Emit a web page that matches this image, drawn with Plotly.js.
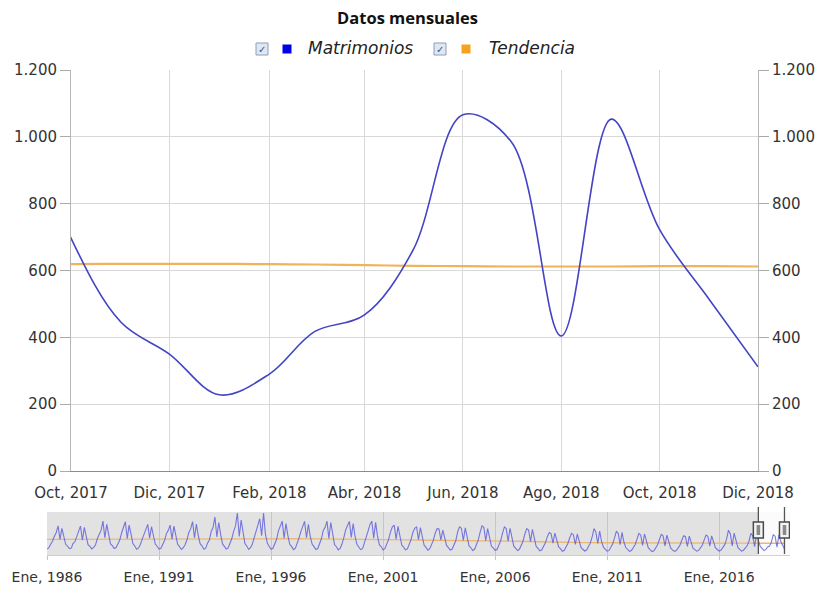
<!DOCTYPE html>
<html>
<head>
<meta charset="utf-8">
<script src="https://cdn.plot.ly/plotly-3.0.1.min.js"></script>
<style>html,body{margin:0;padding:0;background:#fff;}#chart{width:815px;height:590px;}</style>
</head>
<body>
<div id="chart"></div>
<script>
// ---- DATA ----
const startYear = 1986;
// Matrimonios mensuales, Ene 1986 .. Dic 2018 (12 valores por año)
const matrimonios = [
  310, 380, 560, 720, 980, 1180, 1520, 820, 1390, 1010, 560, 470,   // 1986
  330, 360, 600, 690, 1020, 1250, 1510, 780, 1440, 980, 540, 450,   // 1987
  320, 400, 520, 860, 1090, 1300, 1770, 900, 1600, 1050, 580, 490,  // 1988
  340, 390, 610, 780, 1150, 1420, 1740, 860, 1560, 1100, 600, 470,  // 1989
  300, 370, 540, 820, 1080, 1350, 1600, 880, 1480, 1020, 570, 460,  // 1990
  310, 350, 580, 760, 1120, 1290, 1560, 830, 1510, 960, 560, 440,   // 1991
  290, 380, 540, 800, 1180, 1380, 1750, 900, 1620, 1040, 590, 480,  // 1992
  300, 360, 620, 780, 1230, 1460, 1990, 940, 1700, 1090, 580, 450,  // 1993
  310, 370, 590, 850, 1240, 1520, 2200, 970, 1830, 1120, 600, 470,  // 1994
  290, 380, 560, 900, 1200, 1560, 1900, 1010, 2200, 1100, 620, 460, // 1995
  300, 350, 600, 820, 1260, 1480, 1770, 880, 1650, 1030, 560, 450,  // 1996
  280, 360, 580, 880, 1220, 1500, 1760, 900, 1600, 980, 570, 440,   // 1997
  290, 340, 610, 850, 1280, 1450, 1770, 860, 1700, 1010, 550, 430,  // 1998
  270, 350, 560, 900, 1300, 1540, 1760, 920, 1640, 990, 560, 420,   // 1999
  280, 330, 590, 870, 1250, 1600, 1770, 880, 1710, 1000, 540, 430,  // 2000
  260, 340, 570, 820, 1200, 1480, 1560, 830, 1500, 950, 520, 410,   // 2001
  270, 320, 540, 800, 1180, 1400, 1470, 800, 1430, 920, 510, 400,   // 2002
  250, 330, 520, 780, 1150, 1380, 1360, 780, 1300, 900, 500, 390,   // 2003
  260, 310, 550, 760, 1220, 1470, 1400, 760, 1420, 880, 490, 380,   // 2004
  240, 300, 500, 790, 1180, 1520, 1450, 750, 1380, 860, 470, 370,   // 2005
  250, 290, 520, 740, 1130, 1470, 1380, 720, 1400, 840, 460, 360,   // 2006
  230, 300, 480, 720, 1100, 1380, 1300, 700, 1340, 820, 450, 350,   // 2007
  220, 270, 450, 650, 960, 1180, 1120, 620, 1150, 740, 420, 330,    // 2008
  200, 250, 400, 600, 900, 1130, 1050, 560, 1100, 700, 400, 300,    // 2009
  210, 260, 420, 620, 940, 1380, 1200, 600, 1250, 720, 410, 310,    // 2010
  200, 240, 400, 580, 880, 1250, 1130, 540, 1180, 680, 390, 290,    // 2011
  190, 230, 380, 540, 820, 1130, 1050, 500, 1100, 660, 380, 280,    // 2012
  180, 220, 360, 520, 800, 1080, 1000, 480, 1040, 640, 370, 270,    // 2013
  190, 230, 350, 500, 760, 1010, 960, 450, 990, 630, 360, 280,      // 2014
  200, 240, 370, 510, 780, 1040, 980, 460, 1000, 650, 380, 290,     // 2015
  210, 260, 380, 540, 830, 1300, 1100, 480, 1150, 700, 400, 300,    // 2016
  200, 250, 390, 480, 720, 1130, 1010, 440, 1080, 697, 445, 350,    // 2017
  228, 290, 417, 467, 660, 1066, 985, 404, 1053, 722, 512, 312      // 2018
];
// Tendencia: valor de enero de cada año 1986..2017
const tendenciaAnual = [
  820, 825, 830, 835, 830, 825, 835, 850, 870, 875, 860, 850, 845, 840, 835, 815,
  790, 770, 765, 755, 740, 720, 690, 660, 650, 640, 630, 620, 615, 615, 620, 620
];
// Tendencia mensual, Oct 2017 .. Dic 2018
const tendenciaReciente = [619, 620, 620, 620, 619, 618, 616, 614, 613, 612, 612, 612, 613, 613, 612];
const tendenciaRecienteInicio = [2017, 10];

const ventana = ['2017-10-01', '2018-12-01'];
const ticksPrincipal = ['2017-10-01','2017-12-01','2018-02-01','2018-04-01','2018-06-01','2018-08-01','2018-10-01','2018-12-01'];
const textosPrincipal = ['Oct, 2017','Dic, 2017','Feb, 2018','Abr, 2018','Jun, 2018','Ago, 2018','Oct, 2018','Dic, 2018'];
const ticksResumen = ['1986-01-01','1991-01-01','1996-01-01','2001-01-01','2006-01-01','2011-01-01','2016-01-01'];
const textosResumen = ['Ene, 1986','Ene, 1991','Ene, 1996','Ene, 2001','Ene, 2006','Ene, 2011','Ene, 2016'];
const rangoResumen = ['1986-01-01', '2019-03-01'];
const nombres = ['Matrimonios', 'Tendencia'];
const titulo = 'Datos mensuales';

// ---- BUILD ----
const pad = n => (n < 10 ? '0' : '') + n;
const fechas = matrimonios.map((_, i) => `${startYear + Math.floor(i / 12)}-${pad(i % 12 + 1)}-01`);
const tX = [], tY = [];
tendenciaAnual.forEach((v, i) => { tX.push(`${startYear + i}-01-01`); tY.push(v); });
tendenciaReciente.forEach((v, i) => {
  const k = tendenciaRecienteInicio[1] - 1 + i;
  tX.push(`${tendenciaRecienteInicio[0] + Math.floor(k / 12)}-${pad(k % 12 + 1)}-01`); tY.push(v);
});

const W = 815, H = 590, ml = 47, mr = 25, mt = 60, mb = 35;
const pw = W - ml - mr, ph = H - mt - mb;
const px = x => (x - ml) / pw;
const py = y => (H - mb - y) / ph;

const FONT = 'DejaVu Sans';
const TXT = '#333333';
const BLUE = '#4343c6', ORANGE = '#f0b25a';

const traces = [
  { x: tX, y: tY, type: 'scatter', mode: 'lines', name: nombres[1], xaxis: 'x', yaxis: 'y',
    line: { color: ORANGE, width: 2.2, shape: 'spline' }, showlegend: false, hoverinfo: 'x+y' },
  { x: fechas, y: matrimonios, type: 'scatter', mode: 'lines', name: nombres[0], xaxis: 'x', yaxis: 'y2',
    line: { color: BLUE, width: 1.6, shape: 'spline', smoothing: 1 }, showlegend: false },
  { x: tX, y: tY, type: 'scatter', mode: 'lines', xaxis: 'x2', yaxis: 'y3',
    line: { color: '#e9b878', width: 1.4 }, showlegend: false, hoverinfo: 'skip' },
  { x: fechas, y: matrimonios, type: 'scatter', mode: 'lines', xaxis: 'x2', yaxis: 'y3',
    line: { color: 'rgba(80,80,220,0.75)', width: 1.1 }, showlegend: false, hoverinfo: 'skip' }
];

const yAxisCommon = {
  range: [0, 1200], dtick: 200, tick0: 0, separatethousands: true,
  ticks: 'outside', ticklen: 10, tickcolor: '#aaaaaa',
  tickfont: { family: FONT, size: 15, color: TXT },
  showline: true, linecolor: '#b5b5b5', zeroline: false, fixedrange: true
};

const shapes = [
  { type: 'rect', xref: 'x2 domain', yref: 'y3 domain', x0: 0, x1: 1, y0: 0, y1: 1,
    fillcolor: '#e2e2e2', line: { width: 0 }, layer: 'below' },
  { type: 'rect', xref: 'x2', yref: 'y3 domain', x0: ventana[0], x1: rangoResumen[1], y0: 0, y1: 1,
    fillcolor: '#fbfbfb', line: { width: 0 }, layer: 'below' }
];
ventana.forEach(d => {
  shapes.push({ type: 'line', xref: 'x2', yref: 'paper', x0: d, x1: d, y0: py(507), y1: py(554),
    line: { color: '#555555', width: 1.3 } });
  shapes.push({ type: 'rect', xref: 'x2', xsizemode: 'pixel', xanchor: d, x0: -5, x1: 5,
    yref: 'paper', y0: py(538), y1: py(522), fillcolor: '#f4f4f4', line: { color: '#4a4a4a', width: 1.5 } });
  shapes.push({ type: 'rect', xref: 'x2', xsizemode: 'pixel', xanchor: d, x0: -1.8, x1: 1.8,
    yref: 'paper', y0: py(535), y1: py(525), fillcolor: '#8a8a8a', line: { width: 0 } });
});
const legendItems = [
  { cb: 262, sq: 287, tx: 306, color: '#0000e6', text: nombres[0] },
  { cb: 440, sq: 466, tx: 487, color: '#f5a31c', text: nombres[1] }
];
const annotations = [];
legendItems.forEach(it => {
  shapes.push({ type: 'rect', xref: 'paper', yref: 'paper', x0: px(it.cb - 6), x1: px(it.cb + 6),
    y0: py(55), y1: py(43), fillcolor: '#dfe7f3', line: { color: '#8d9db8', width: 1 } });
  shapes.push({ type: 'rect', xref: 'paper', yref: 'paper', x0: px(it.sq - 4.5), x1: px(it.sq + 4.5),
    y0: py(53.5), y1: py(44.5), fillcolor: it.color, line: { width: 0 } });
  annotations.push({ xref: 'paper', yref: 'paper', x: px(it.cb), y: py(49), text: '✓', showarrow: false,
    xanchor: 'center', yanchor: 'middle', font: { family: FONT, size: 10, color: '#34539a' } });
  annotations.push({ xref: 'paper', yref: 'paper', x: px(it.tx), y: py(48), text: '<i>' + it.text + '</i>',
    showarrow: false, xanchor: 'left', yanchor: 'middle', font: { family: FONT, size: 17, color: '#222' } });
});

const layout = {
  width: W, height: H,
  margin: { l: ml, r: mr, t: mt, b: mb, pad: 0 },
  paper_bgcolor: '#ffffff', plot_bgcolor: 'rgba(0,0,0,0)',
  separators: ',.',
  showlegend: false,
  title: { text: '<b>' + titulo + '</b>', x: 0.5, xref: 'container', xanchor: 'center',
    y: 1 - 18 / H, yref: 'container', yanchor: 'middle',
    font: { family: 'Open Sans', size: 16.5, color: '#111' } },
  xaxis: {
    domain: [px(71), px(758)], anchor: 'y', type: 'date', range: ventana,
    tickvals: ticksPrincipal, ticktext: textosPrincipal,
    ticks: 'outside', ticklen: 8, tickcolor: 'rgba(0,0,0,0)',
    tickfont: { family: FONT, size: 15, color: TXT },
    showgrid: true, gridcolor: '#d8d8d8', gridwidth: 1,
    showline: true, linecolor: '#8c8c8c', linewidth: 1.2, zeroline: false, fixedrange: true
  },
  yaxis: Object.assign({}, yAxisCommon, {
    domain: [py(471), py(70)], anchor: 'x', side: 'left',
    showgrid: true, gridcolor: '#d8d8d8'
  }),
  yaxis2: Object.assign({}, yAxisCommon, {
    overlaying: 'y', anchor: 'x', side: 'right', showgrid: false
  }),
  xaxis2: {
    domain: [0, 1], anchor: 'y3', type: 'date', range: rangoResumen,
    tickvals: ticksResumen, ticktext: textosResumen,
    ticks: 'outside', ticklen: 4, tickcolor: '#c4c4c4', ticklabelstandoff: 5,
    tickfont: { family: FONT, size: 14, color: TXT },
    showgrid: true, gridcolor: '#c6c6c6', showline: true, linecolor: '#d0d0d0',
    zeroline: false, fixedrange: true
  },
  yaxis3: {
    domain: [0, py(512)], anchor: 'x2', range: [0, 2250],
    showticklabels: false, ticks: '', showgrid: false, zeroline: false, showline: false, fixedrange: true
  },
  shapes: shapes,
  annotations: annotations
};

Plotly.newPlot('chart', traces, layout, { displayModeBar: false, responsive: false });
</script>
</body>
</html>
